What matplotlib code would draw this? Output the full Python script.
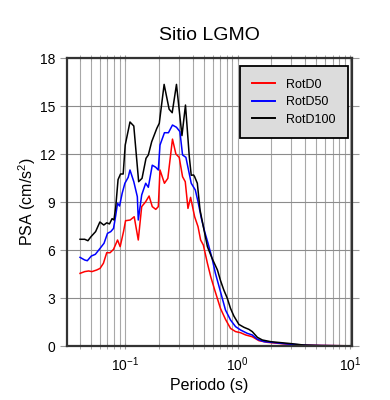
import matplotlib
matplotlib.use("Agg")
import matplotlib.pyplot as plt
from matplotlib.ticker import LogLocator, MultipleLocator, NullFormatter

plt.rcParams["font.family"] = ["Liberation Sans", "DejaVu Sans"]
plt.rcParams["mathtext.default"] = "regular"

# RotD100 (black)
per_d100 = [0.040, 0.044, 0.047, 0.050, 0.055, 0.060, 0.065, 0.069, 0.073, 0.077,
            0.080, 0.083, 0.087, 0.0915, 0.0966, 0.1007, 0.111, 0.120, 0.1325, 0.142,
            0.154, 0.1615, 0.173, 0.192, 0.202, 0.223, 0.247, 0.263, 0.287, 0.321,
            0.345, 0.373, 0.388, 0.407, 0.416, 0.4395, 0.4645, 0.497, 0.540, 0.594,
            0.663, 0.705, 0.755, 0.809, 0.866, 0.927, 1.027, 1.138, 1.26, 1.35,
            1.50, 1.66, 1.97, 2.42, 2.97, 3.88, 5.51, 10.0]
psa_d100 = [6.67, 6.67, 6.58, 6.83, 7.15, 7.75, 7.56, 7.70, 7.63, 7.96,
            7.88, 8.71, 10.4, 10.75, 10.75, 12.56, 14.0, 13.75, 10.27, 10.48,
            11.73, 11.94, 12.77, 13.6, 13.92, 16.35, 14.8, 14.58, 16.35, 13.15,
            15.06, 11.83, 10.67, 10.69, 10.58, 10.17, 8.5, 7.46, 6.21, 5.48,
            4.75, 4.1, 3.5, 3.0, 2.35, 1.875, 1.35, 1.17, 1.04, 0.90,
            0.54, 0.375, 0.27, 0.21, 0.15, 0.06, 0.02, 0.01]

# RotD50 (blue)
per_d50 = [0.040, 0.044, 0.0464, 0.0504, 0.0547, 0.0602, 0.0653, 0.0701, 0.075, 0.0793,
           0.0826, 0.0861, 0.0897, 0.0946, 0.100, 0.107, 0.111, 0.120, 0.129, 0.1315,
           0.141, 0.153, 0.1615, 0.175, 0.188, 0.198, 0.205, 0.2244, 0.2436, 0.2645,
           0.287, 0.3078, 0.325, 0.348, 0.388, 0.4217, 0.4457, 0.4772, 0.5105, 0.547,
           0.594, 0.636, 0.705, 0.781, 0.866, 0.960, 1.064, 1.22, 1.35, 1.50,
           1.72, 2.11, 2.78, 4.19, 10.0]
psa_d50 = [5.54, 5.375, 5.33, 5.625, 5.73, 6.10, 6.42, 7.04, 7.15, 7.35,
           8.08, 8.92, 8.75, 9.54, 10.17, 10.54, 11.0, 10.27, 9.33, 7.875,
           9.44, 10.17, 9.92, 11.3, 11.17, 11.0, 12.56, 13.33, 13.33, 13.81,
           13.67, 13.4, 11.94, 11.79, 10.17, 9.75, 9.02, 7.98, 7.15, 6.42,
           5.48, 4.54, 3.4, 2.25, 1.625, 1.21, 1.0, 0.79, 0.69, 0.42,
           0.27, 0.21, 0.125, 0.04, 0.01]

# RotD0 (red)
per_d0 = [0.040, 0.044, 0.0477, 0.051, 0.0562, 0.0602, 0.0645, 0.069, 0.0739, 0.0793,
          0.0861, 0.0908, 0.0973, 0.1014, 0.1115, 0.121, 0.1315, 0.141, 0.153, 0.164,
          0.175, 0.188, 0.198, 0.205, 0.2244, 0.2406, 0.2645, 0.2836, 0.3035, 0.325,
          0.3434, 0.363, 0.383, 0.416, 0.4457, 0.470, 0.497, 0.540, 0.578, 0.627,
          0.705, 0.781, 0.866, 0.960, 1.064, 1.179, 1.35, 1.55, 1.84, 2.42,
          3.41, 10.0]
psa_d0 = [4.54, 4.65, 4.69, 4.65, 4.75, 4.85, 5.17, 5.83, 5.83, 6.04,
          6.625, 6.21, 7.15, 7.83, 7.875, 8.08, 6.625, 8.71, 9.02, 9.375,
          8.71, 8.54, 8.71, 11.0, 10.17, 10.48, 12.93, 12.0, 11.79, 10.58,
          10.27, 8.6, 9.29, 8.08, 7.46, 6.625, 6.31, 5.17, 4.33, 3.5,
          2.35, 1.67, 1.10, 0.90, 0.83, 0.69, 0.58, 0.33, 0.23, 0.15,
          0.06, 0.01]

fig = plt.figure(figsize=(3.9, 4.0), dpi=100)
ax = fig.add_axes([0.172, 0.135, 0.731, 0.72])

ax.plot(per_d0, psa_d0, color="red", lw=1.1, label="RotD0")
ax.plot(per_d50, psa_d50, color="blue", lw=1.1, label="RotD50")
ax.plot(per_d100, psa_d100, color="black", lw=1.1, label="RotD100")

ax.set_xscale("log")
ax.set_xlim(0.0307, 10.4)
ax.set_ylim(0, 18)
ax.yaxis.set_major_locator(MultipleLocator(3))
ax.xaxis.set_major_locator(LogLocator(base=10, numticks=10))
ax.xaxis.set_minor_locator(LogLocator(base=10, subs=range(2, 10), numticks=20))
ax.xaxis.set_minor_formatter(NullFormatter())

ax.grid(True, which="major", axis="y", color="#8c8c8c", lw=0.8)
ax.grid(True, which="both", axis="x", color="#a8a8a8", lw=0.8)
ax.set_axisbelow(True)

for s in ax.spines.values():
    s.set_color("#333333")
    s.set_linewidth(1.6)

ax.tick_params(axis="y", which="both", left=True, right=True, direction="out",
               length=5, color="#999999", labelsize=10)
ax.tick_params(axis="x", which="both", bottom=True, top=True, direction="inout",
               length=4, color="#999999", labelsize=10, pad=5)

ax.set_title("Sitio LGMO", fontsize=14, pad=13)
ax.set_xlabel("Periodo (s)", fontsize=11.5, labelpad=3)
ax.set_ylabel("PSA (cm/s$^2$)", fontsize=11.5, labelpad=1)

leg = ax.legend(loc="upper right", bbox_to_anchor=(0.986, 0.972), borderaxespad=0,
                fontsize=9, fancybox=False, framealpha=1, facecolor="#dcdcdc",
                edgecolor="black", borderpad=1.0, labelspacing=0.45,
                handlelength=1.8, handletextpad=0.9)
leg.get_frame().set_linewidth(1.3)
for line in leg.get_lines():
    line.set_linewidth(1.4)

fig.savefig("out.png", dpi=100)
